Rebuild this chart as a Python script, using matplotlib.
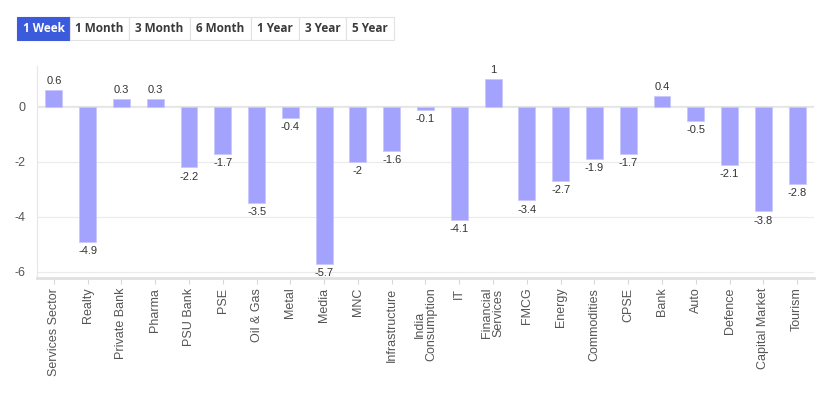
import matplotlib.pyplot as plt
from matplotlib.patches import Rectangle

# sector returns, 1 week (%)
sectors = ['Services Sector', 'Realty', 'Private Bank', 'Pharma', 'PSU Bank', 'PSE',
           'Oil & Gas', 'Metal', 'Media', 'MNC', 'Infrastructure', 'India\nConsumption',
           'IT', 'Financial\nServices', 'FMCG', 'Energy', 'Commodities', 'CPSE', 'Bank',
           'Auto', 'Defence', 'Capital Market', 'Tourism']
returns = [0.6, -4.9, 0.3, 0.3, -2.2, -1.7, -3.5, -0.4, -5.7, -2, -1.6, -0.1,
           -4.1, 1, -3.4, -2.7, -1.9, -1.7, 0.4, -0.5, -2.1, -3.8, -2.8]
periods = ['1 Week', '1 Month', '3 Month', '6 Month', '1 Year', '3 Year', '5 Year']
yticks = [0, -2, -4, -6]

W, H = 831, 397
fig = plt.figure(figsize=(W / 100, H / 100), dpi=100)
plt.rcParams['font.family'] = ['Liberation Sans', 'DejaVu Sans']

# period buttons
edges = [17, 70, 129, 190, 251, 299, 346, 394]
for i, p in enumerate(periods):
    x0, x1 = edges[i], edges[i + 1]
    active = i == 0
    fig.patches.append(Rectangle((x0 / W, 1 - 40 / H), (x1 - x0) / W, 23 / H,
                                 transform=fig.transFigure,
                                 facecolor='#3b5bdb' if active else 'white',
                                 edgecolor='#3b5bdb' if active else '#e2e2e2', lw=0.8))
    fig.text((x0 + x1) / 2 / W, 1 - 28.5 / H, p, ha='center', va='center',
             fontsize=8.5, fontweight='bold', family=['Open Sans', 'DejaVu Sans'],
             color='white' if active else '#3a3a3a')

ax = fig.add_axes([37 / W, 1 - 278 / H, 777 / W, 212 / H])
x = range(len(sectors))
ax.bar(x, returns, width=0.5, color='#a3a3fd', edgecolor='#c8c8fe', lw=0.6, zorder=3)

for i, v in enumerate(returns):
    lab = f'{v:g}'
    if v >= 0:
        ax.annotate(lab, (i, v), xytext=(0, 3), textcoords='offset points',
                    ha='center', va='bottom', fontsize=8, color='#333333')
    else:
        ax.annotate(lab, (i, v), xytext=(0, -3), textcoords='offset points',
                    ha='center', va='top', fontsize=8, color='#333333')

ax.set_xlim(-0.5, len(sectors) - 0.5)
ax.set_ylim(-6.22, 1.49)
ax.set_yticks(yticks)
ax.set_yticklabels([str(t) for t in yticks], fontsize=9, color='#555555')
ax.set_xticks(list(x))
ax.set_xticklabels(sectors, rotation=90, fontsize=9, color='#555555',
                   multialignment='center', linespacing=0.95)
ax.tick_params(axis='y', length=0, pad=8)
ax.tick_params(axis='x', length=4, color='#d8d8d8', pad=3)
ax.grid(axis='y', color='#ebebeb', lw=0.8, zorder=0)
ax.axhline(0, color='#e3e3e3', lw=1.5, zorder=1)
for s in ['top', 'right']:
    ax.spines[s].set_visible(False)
ax.spines['left'].set_color('#e6e6e6')
ax.spines['bottom'].set_color('#e0e0e0')
ax.spines['bottom'].set_linewidth(2)

fig.savefig('out.png', dpi=100)
